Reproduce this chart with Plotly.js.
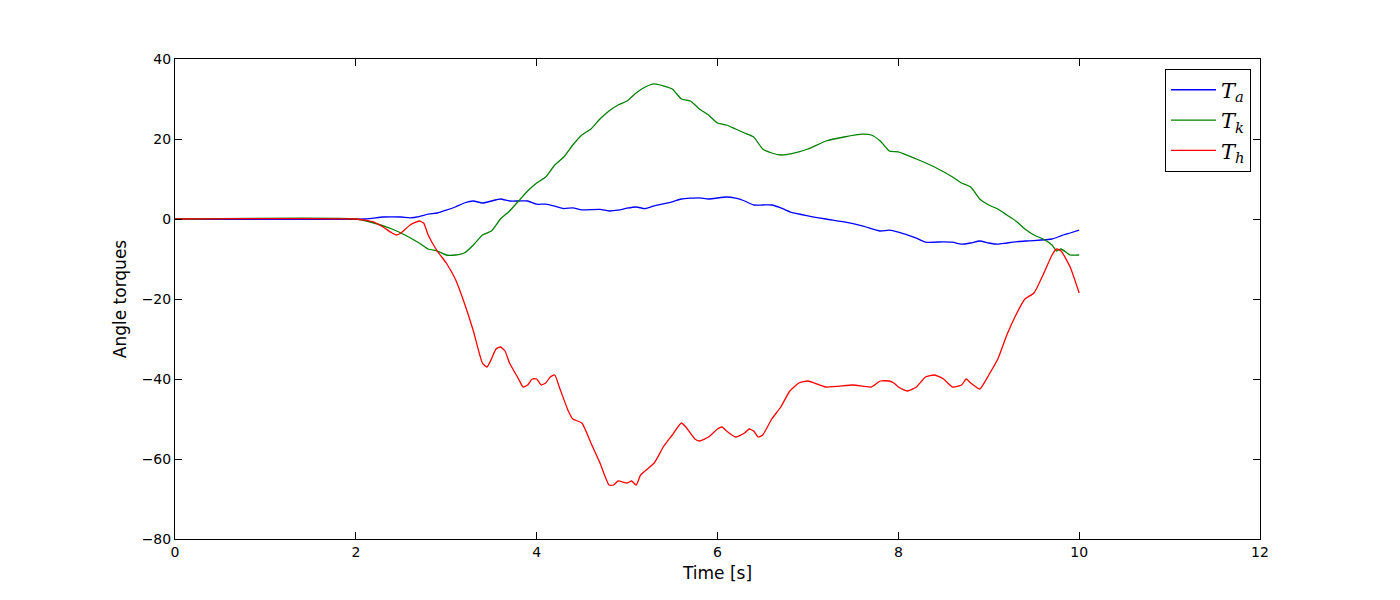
<!DOCTYPE html>
<html><head><script src="https://cdn.plot.ly/plotly-3.0.1.min.js"></script></head>
<body style="margin:0"><div id="c" style="width:1400px;height:600px"></div>
<script>
const tH=[0,2,2.1,2.2,2.3,2.4,2.45,2.5,2.6,2.7,2.75,2.8,2.9,3.0,3.1,3.2,3.3,3.4,3.45,3.5,3.55,3.6,3.65,3.7,3.8,3.85,3.9,3.95,4.0,4.05,4.1,4.15,4.2,4.25,4.35,4.4,4.5,4.6,4.7,4.8,4.85,4.9,5.0,5.05,5.1,5.15,5.3,5.4,5.5,5.6,5.65,5.75,5.8,5.9,6.0,6.05,6.1,6.2,6.3,6.35,6.4,6.45,6.5,6.6,6.7,6.8,6.9,7.0,7.2,7.5,7.7,7.8,7.9,7.95,8.0,8.1,8.2,8.3,8.4,8.5,8.6,8.7,8.75,8.8,8.9,9.0,9.1,9.2,9.3,9.4,9.5,9.6,9.7,9.75,9.8,9.9,10.0];
const Th=[0,0,-0.3,-0.8,-2,-3.5,-4,-3.5,-1.5,-0.5,-1,-4,-8,-11,-15,-21,-28,-36,-37,-35,-32.5,-32,-33,-36,-40,-42,-41.5,-40,-40,-41.5,-41,-39.5,-39,-42,-48,-50,-51,-56,-61,-66.5,-66.5,-65.5,-66,-65.5,-66.5,-64,-61,-57,-54,-51,-52,-55,-55.5,-54.5,-52.5,-52,-53,-54.5,-53.5,-52.5,-53,-54.5,-54,-50,-47,-43,-41,-40.5,-42,-41.5,-42,-40.5,-40.5,-41,-42,-43,-42,-39.5,-39,-40,-42,-41.5,-40,-41,-42.5,-39,-35,-29,-24,-20,-18.5,-14,-9,-7.5,-8,-12,-18.5];
const tK=[0,2,2.2,2.4,2.5,2.7,2.8,2.9,3.0,3.1,3.2,3.3,3.4,3.5,3.6,3.7,3.8,3.9,4.0,4.1,4.2,4.3,4.4,4.5,4.6,4.7,4.8,4.9,5.0,5.1,5.2,5.3,5.4,5.5,5.6,5.7,5.8,5.9,6.0,6.1,6.2,6.3,6.4,6.5,6.6,6.7,6.9,7.0,7.2,7.4,7.6,7.7,7.8,7.9,8.0,8.2,8.4,8.6,8.7,8.8,8.9,9.0,9.1,9.2,9.3,9.4,9.5,9.6,9.7,9.75,9.8,9.9,10];
const Tk=[0,0,-1,-2.5,-3.5,-6,-7.5,-8,-9,-9,-8.5,-6.5,-4,-3,0,2,4.5,7,9,10.5,13.5,15.5,18.5,21,22.5,25,27,28.5,29.5,31.5,33,33.8,33.3,32.5,30,29.5,27.5,26,24,23.5,22.5,21.5,20.5,17.5,16.5,16,16.8,17.5,19.5,20.5,21.2,21,19.5,17,16.8,15,13,10.5,9,8,5,3.5,2.5,1,-0.5,-2.5,-4,-5,-6.5,-8,-7.5,-9,-9];
const tA=[0,2.1,2.3,2.5,2.6,2.7,2.8,2.9,3.0,3.1,3.2,3.3,3.4,3.5,3.6,3.7,3.8,3.9,4.0,4.1,4.2,4.3,4.4,4.5,4.7,4.8,4.9,5.0,5.1,5.2,5.3,5.5,5.6,5.8,5.9,6.1,6.2,6.3,6.4,6.5,6.6,6.7,6.8,7.0,7.2,7.4,7.6,7.8,7.9,8.0,8.2,8.3,8.5,8.6,8.7,8.8,8.9,9.0,9.1,9.2,9.4,9.5,9.7,9.8,9.9,10];
const Ta=[0,0,0.5,0.5,0.3,0.6,1.2,1.5,2.2,3,4,4.5,4,4.5,5,4.5,4.5,4.5,3.7,3.7,3.2,2.6,2.8,2.3,2.4,2,2.2,2.7,3,2.6,3.3,4.3,5,5.3,5,5.5,5.2,4.5,3.5,3.5,3.5,2.8,1.8,0.8,0,-0.7,-1.7,-3,-2.8,-3.3,-4.8,-5.8,-5.7,-5.8,-6.3,-6,-5.5,-6,-6.3,-6,-5.5,-5.4,-5,-4.2,-3.5,-2.8];
const lab=s=>'<i>T</i><sub><i>'+s+'</i></sub>';
const tr=(x,y,c,n)=>({x,y,name:lab(n),mode:'lines',line:{color:c,width:1.3,shape:'spline',smoothing:0.5}});
const ax={showgrid:false,zeroline:false,showline:true,mirror:'ticks',linecolor:'black',linewidth:1,ticks:'inside',ticklen:7,tickcolor:'black'};
Plotly.newPlot('c',[tr(tA,Ta,'#0000ff','a'),tr(tK,Tk,'#008000','k'),tr(tH,Th,'#ff0000','h')],{
 width:1400,height:600,margin:{l:175,r:140,t:59,b:61},paper_bgcolor:'white',plot_bgcolor:'white',
 font:{family:'DejaVu Sans',size:14,color:'black'},
 xaxis:Object.assign({},ax,{range:[0,12],dtick:2,title:{text:'Time [s]',standoff:8}}),
 yaxis:Object.assign({},ax,{range:[-80,40],dtick:20,title:{text:'Angle torques',standoff:10}}),
 legend:{x:0.9917,y:0.98,xanchor:'right',yanchor:'top',bordercolor:'black',borderwidth:1,itemwidth:45,tracegroupgap:6,font:{family:'DejaVu Serif',size:21}},
 showlegend:true
},{staticPlot:true});
</script></body></html>
